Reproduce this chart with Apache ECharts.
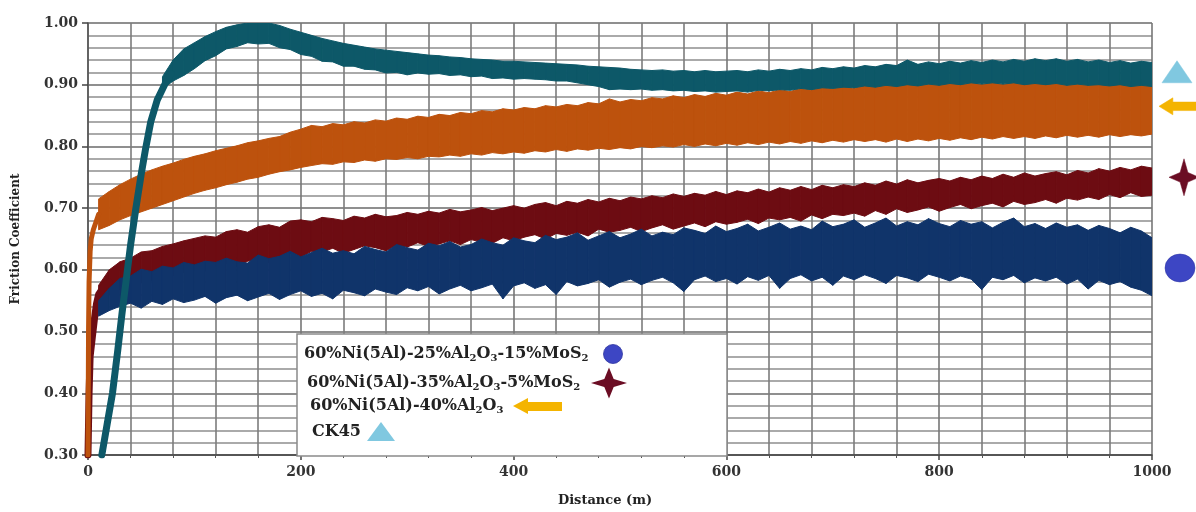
<!DOCTYPE html>
<html><head><meta charset="utf-8">
<script src="https://cdn.jsdelivr.net/npm/echarts@6/dist/echarts.min.js"></script>
<style>html,body{margin:0;padding:0;background:#fff}#c{width:1196px;height:512px}</style>
</head><body><div id="c"></div>
<script>
// Sliding distance (m) sampling grid for the noisy bands
const dist = [10,20,30,40,50,60,70,80,90,100,110,120,130,140,150,160,170,180,190,200,
210,220,230,240,250,260,270,280,290,300,310,320,330,340,350,360,370,380,390,400,
410,420,430,440,450,460,470,480,490,500,510,520,530,540,550,560,570,580,590,600,
610,620,630,640,650,660,670,680,690,700,710,720,730,740,750,760,770,780,790,800,
810,820,830,840,850,860,870,880,890,900,910,920,930,940,950,960,970,980,990,1000];

// 60%Ni(5Al)-25%Al2O3-15%MoS2 (lower / upper edge of the noisy trace)
const navyLow = [0.525,0.534,0.541,0.546,0.538,0.549,0.544,0.553,0.547,0.551,
0.557,0.546,0.555,0.559,0.550,0.556,0.562,0.552,0.560,0.566,
0.557,0.562,0.553,0.567,0.563,0.558,0.569,0.564,0.560,0.571,
0.566,0.573,0.561,0.569,0.575,0.566,0.571,0.577,0.553,0.574,
0.579,0.570,0.576,0.560,0.581,0.574,0.578,0.584,0.572,0.580,
0.585,0.576,0.583,0.588,0.579,0.565,0.584,0.590,0.581,0.586,
0.577,0.589,0.583,0.591,0.570,0.586,0.592,0.582,0.588,0.575,
0.590,0.584,0.592,0.586,0.578,0.591,0.587,0.581,0.593,0.588,
0.582,0.590,0.585,0.568,0.588,0.584,0.591,0.579,0.587,0.582,
0.588,0.577,0.585,0.569,0.583,0.576,0.581,0.572,0.567,0.558];
const navyHigh = [0.550,0.570,0.586,0.590,0.601,0.597,0.606,0.603,0.612,0.608,
0.614,0.612,0.619,0.613,0.611,0.624,0.618,0.622,0.630,0.621,
0.628,0.635,0.627,0.631,0.626,0.638,0.633,0.629,0.641,0.636,
0.632,0.643,0.639,0.646,0.637,0.641,0.650,0.644,0.640,0.652,
0.647,0.644,0.656,0.649,0.653,0.660,0.648,0.655,0.662,0.652,
0.658,0.666,0.655,0.661,0.657,0.668,0.664,0.659,0.671,0.662,
0.667,0.674,0.663,0.669,0.676,0.666,0.671,0.665,0.679,0.670,
0.674,0.681,0.669,0.676,0.684,0.671,0.678,0.673,0.683,0.675,
0.670,0.680,0.674,0.678,0.668,0.677,0.684,0.670,0.675,0.667,
0.676,0.669,0.673,0.664,0.672,0.667,0.660,0.669,0.663,0.652];

// 60%Ni(5Al)-35%Al2O3-5%MoS2
const redStart = [[0,0.30],[1,0.40],[2,0.46],[4,0.49],[6,0.52],[8,0.545],[10,0.56],[15,0.573],[20,0.58]];
const redLow = [0.545,0.560,0.568,0.573,0.579,0.583,0.589,0.591,0.596,0.601,
0.598,0.606,0.611,0.605,0.614,0.618,0.612,0.621,0.627,0.620,
0.630,0.629,0.635,0.627,0.633,0.639,0.636,0.631,0.640,0.637,
0.644,0.638,0.642,0.647,0.641,0.649,0.645,0.643,0.652,0.647,
0.653,0.657,0.650,0.659,0.656,0.661,0.655,0.666,0.661,0.664,
0.669,0.662,0.668,0.673,0.666,0.671,0.676,0.670,0.678,0.674,
0.677,0.682,0.675,0.684,0.681,0.685,0.679,0.689,0.683,0.690,
0.688,0.692,0.687,0.696,0.690,0.699,0.693,0.697,0.702,0.695,
0.701,0.706,0.699,0.704,0.708,0.702,0.711,0.706,0.709,0.714,
0.708,0.716,0.713,0.718,0.714,0.722,0.717,0.725,0.719,0.721];
const redHigh = [0.575,0.600,0.613,0.619,0.629,0.631,0.638,0.642,0.647,0.651,
0.655,0.653,0.662,0.665,0.661,0.670,0.673,0.669,0.679,0.681,
0.678,0.685,0.683,0.680,0.687,0.684,0.690,0.686,0.688,0.693,
0.690,0.695,0.692,0.698,0.694,0.697,0.701,0.696,0.700,0.704,
0.700,0.706,0.709,0.704,0.711,0.708,0.714,0.710,0.716,0.712,
0.718,0.715,0.720,0.717,0.723,0.719,0.724,0.721,0.727,0.722,
0.728,0.725,0.731,0.726,0.733,0.729,0.735,0.730,0.737,0.733,
0.738,0.735,0.741,0.737,0.744,0.739,0.746,0.741,0.745,0.748,
0.744,0.750,0.746,0.752,0.748,0.755,0.750,0.757,0.752,0.756,
0.759,0.754,0.761,0.757,0.764,0.760,0.766,0.762,0.768,0.765];

// 60%Ni(5Al)-40%Al2O3
const orangeStart = [[0,0.30],[0.5,0.50],[1,0.58],[2,0.63],[3,0.65],[5,0.665],[8,0.68],[10,0.69]];
const orangeLow = [0.665,0.672,0.681,0.688,0.694,0.700,0.706,0.712,0.718,0.724,
0.729,0.733,0.738,0.742,0.747,0.750,0.755,0.759,0.762,0.766,
0.769,0.772,0.771,0.775,0.774,0.778,0.776,0.780,0.779,0.782,
0.780,0.784,0.783,0.786,0.784,0.788,0.786,0.790,0.788,0.791,
0.789,0.793,0.791,0.795,0.792,0.796,0.794,0.797,0.795,0.798,
0.796,0.800,0.798,0.801,0.799,0.803,0.800,0.804,0.801,0.805,
0.802,0.806,0.803,0.807,0.804,0.808,0.805,0.809,0.806,0.810,
0.807,0.811,0.808,0.811,0.807,0.812,0.808,0.812,0.809,0.813,
0.810,0.814,0.811,0.815,0.812,0.816,0.813,0.816,0.813,0.817,
0.814,0.818,0.815,0.818,0.815,0.819,0.816,0.819,0.817,0.820];
const orangeHigh = [0.715,0.727,0.738,0.747,0.755,0.762,0.768,0.773,0.779,0.784,
0.788,0.793,0.797,0.801,0.806,0.809,0.813,0.816,0.823,0.828,
0.834,0.832,0.837,0.835,0.840,0.838,0.843,0.841,0.846,0.844,
0.849,0.847,0.852,0.850,0.855,0.853,0.858,0.856,0.861,0.859,
0.863,0.861,0.866,0.864,0.868,0.866,0.871,0.869,0.877,0.872,
0.876,0.874,0.879,0.877,0.882,0.879,0.884,0.881,0.886,0.883,
0.888,0.885,0.890,0.887,0.892,0.889,0.894,0.891,0.896,0.893,
0.897,0.894,0.899,0.896,0.901,0.897,0.903,0.898,0.902,0.899,
0.903,0.899,0.904,0.900,0.904,0.900,0.905,0.901,0.905,0.902,
0.906,0.902,0.906,0.903,0.907,0.903,0.907,0.904,0.908,0.905];

// CK45
const tealRise = [[13,0.30],[18,0.35],[23,0.40],[28,0.47],[32,0.53],[36,0.585],[40,0.64],[45,0.70],[50,0.755],[54,0.795],[59,0.84],[65,0.875],[72,0.90],[78,0.918]];
const tealLow = [null,null,null,null,null,null,0.893,0.906,0.915,0.926,
0.939,0.947,0.958,0.962,0.968,0.966,0.967,0.960,0.957,0.949,
0.946,0.938,0.937,0.930,0.930,0.925,0.924,0.919,0.920,0.916,
0.919,0.917,0.918,0.915,0.916,0.913,0.914,0.910,0.911,0.909,
0.910,0.909,0.908,0.906,0.906,0.903,0.900,0.897,0.892,0.893,
0.892,0.893,0.891,0.892,0.890,0.891,0.889,0.890,0.888,0.889,
0.890,0.888,0.891,0.890,0.892,0.891,0.894,0.892,0.895,0.894,
0.896,0.895,0.898,0.896,0.899,0.897,0.900,0.898,0.901,0.899,
0.902,0.900,0.903,0.901,0.903,0.901,0.903,0.900,0.902,0.900,
0.902,0.899,0.901,0.899,0.900,0.898,0.900,0.897,0.899,0.897];
const tealHigh = [null,null,null,null,null,null,0.913,0.940,0.958,0.968,
0.978,0.986,0.993,0.997,1.000,1.000,1.000,0.996,0.990,0.985,
0.980,0.975,0.971,0.967,0.964,0.961,0.958,0.956,0.954,0.952,
0.950,0.948,0.947,0.945,0.944,0.942,0.941,0.940,0.938,0.938,
0.937,0.936,0.935,0.934,0.933,0.932,0.930,0.929,0.928,0.927,
0.925,0.924,0.923,0.924,0.922,0.923,0.921,0.923,0.921,0.922,
0.923,0.921,0.924,0.922,0.925,0.923,0.926,0.924,0.928,0.926,
0.929,0.927,0.931,0.929,0.933,0.931,0.940,0.933,0.937,0.934,
0.938,0.935,0.939,0.936,0.940,0.937,0.941,0.938,0.942,0.939,
0.942,0.938,0.941,0.937,0.940,0.936,0.939,0.935,0.938,0.936];

// End-of-test values marked by the symbols at the right side
const endMarkers = {navy: 0.603, red: 0.75, orange: 0.865, teal: 0.921};

const yTicks = [0.30,0.40,0.50,0.60,0.70,0.80,0.90,1.00];
const xTicks = [0,200,400,600,800,1000];

const C = {navy:'#10346a', red:'#6d0c12', orange:'#bd520d', teal:'#0d5868'};
const SERIF = "'DejaVu Serif', 'Liberation Serif', serif";

function bandData(low, high){
  const out = [];
  for (let i = 0; i < dist.length - 1; i++) {
    if (low[i] == null || low[i+1] == null) continue;
    out.push([dist[i], low[i], high[i], dist[i+1], low[i+1], high[i+1]]);
  }
  return out;
}
function bandSeries(name, low, high, color, z){
  return {
    type: 'custom', name: name, clip: true, z: z,
    encode: {x: [0, 3], y: [1, 2, 4, 5]},
    data: bandData(low, high),
    renderItem: function(params, api){
      const p0 = api.coord([api.value(0), api.value(1)]);
      const p1 = api.coord([api.value(3), api.value(4)]);
      const p2 = api.coord([api.value(3), api.value(5)]);
      const p3 = api.coord([api.value(0), api.value(2)]);
      return {type: 'polygon', shape: {points: [p0, p1, p2, p3]},
        style: {fill: color, stroke: color, lineWidth: 1}};
    }
  };
}
function lineSeries(data, color, width, z){
  return {type: 'line', data: data, symbol: 'none', z: z, silent: true,
    lineStyle: {color: color, width: width, join: 'round', cap: 'round'}};
}
function endSeries(v, symbol, size, offset, color, border){
  return {type: 'scatter', data: [[1000, v]], symbol: symbol, symbolSize: size,
    symbolOffset: [offset, 0], clip: false, z: 6, silent: true,
    itemStyle: {color: color, borderColor: border || color, borderWidth: 0.5, opacity: 1}};
}

const ARROW = 'path://M0,8 L9,0 L9,4 L26,4 L26,12 L9,12 L9,16 Z';
const STAR4 = 'path://M10,0 L12.6,7.4 L20,10 L12.6,12.6 L10,20 L7.4,12.6 L0,10 L7.4,7.4 Z';

const chart = echarts.init(document.getElementById('c'), null, {renderer: 'canvas'});
const axisFont = {fontFamily: SERIF, fontWeight: 'bold', fontSize: 14, color: '#333'};
const subRich = {s: {fontFamily: SERIF, fontWeight: 'bold', fontSize: 10, lineHeight: 10, verticalAlign: 'bottom', fill: '#222'}};
function legendText(x, y, text){
  return {type: 'text', x: x, y: y, z: 60,
    style: {text: text, rich: subRich, fontFamily: SERIF, fontWeight: 'bold', fontSize: 16,
      lineHeight: 19, fill: '#222', align: 'left', verticalAlign: 'middle'}};
}
function starPts(cx, cy, w, h){
  const a = w/2, b = h/2, ia = w*0.13, ib = h*0.13;
  return [[cx, cy-b],[cx+ia, cy-ib],[cx+a, cy],[cx+ia, cy+ib],[cx, cy+b],[cx-ia, cy+ib],[cx-a, cy],[cx-ia, cy-ib]];
}

chart.setOption({
  animation: false,
  backgroundColor: '#fff',
  grid: {left: 88, right: 44, top: 23, bottom: 55, containLabel: false},
  xAxis: {
    type: 'value', min: xTicks[0], max: xTicks[xTicks.length-1], interval: 200,
    name: 'Distance (m)', nameLocation: 'middle', nameGap: 39,
    nameTextStyle: {fontFamily: SERIF, fontWeight: 'bold', fontSize: 13, color: '#222', padding: [0, 30, 0, 0]},
    axisLine: {show: true, lineStyle: {color: '#444', width: 1.5}},
    axisTick: {show: true, length: 5, lineStyle: {color: '#444', width: 1.5}},
    minorTick: {show: true, splitNumber: 5, length: 3, lineStyle: {color: '#555'}},
    axisLabel: Object.assign({margin: 10, formatter: v => String(v)}, axisFont),
    splitLine: {show: true, lineStyle: {color: '#767676', width: 1.6}},
    minorSplitLine: {show: true, lineStyle: {color: '#7c7c7c', width: 1.6}}
  },
  yAxis: {
    type: 'value', min: yTicks[0], max: yTicks[yTicks.length-1], interval: 0.1,
    name: 'Friction Coefficient', nameLocation: 'middle', nameGap: 66, nameRotate: 90,
    nameTextStyle: {fontFamily: SERIF, fontWeight: 'bold', fontSize: 12, color: '#222'},
    axisLine: {show: true, lineStyle: {color: '#555', width: 1.5}},
    axisTick: {show: true, length: 6, lineStyle: {color: '#444', width: 1.5}},
    minorTick: {show: false, splitNumber: 5},
    axisLabel: Object.assign({margin: 10, formatter: v => v.toFixed(2)}, axisFont),
    splitLine: {show: true, lineStyle: {color: '#6a6a6a', width: 1.6}},
    minorSplitLine: {show: true, lineStyle: {color: '#8e8e8e', width: 1.5}}
  },
  graphic: [
    {type: 'rect', z: 50, shape: {x: 297, y: 334, width: 430, height: 122},
      style: {fill: '#fff', stroke: '#8a8a8a', lineWidth: 1.5}},
    legendText(304, 354, '60%Ni(5Al)-25%Al{s|2}O{s|3}-15%MoS{s|2}'),
    {type: 'circle', z: 60, shape: {cx: 613, cy: 354, r: 9.5}, style: {fill: '#3d46c4', stroke: '#2e35a0', lineWidth: 0.8}},
    legendText(307, 383, '60%Ni(5Al)-35%Al{s|2}O{s|3}-5%MoS{s|2}'),
    {type: 'polygon', z: 60, shape: {points: starPts(609, 383, 36, 31)}, style: {fill: '#6b0d24'}},
    legendText(310, 406, '60%Ni(5Al)-40%Al{s|2}O{s|3}'),
    {type: 'polygon', z: 60, shape: {points: [[513,406],[528,398],[528,402],[562,402],[562,411],[528,411],[528,414]]}, style: {fill: '#f4b400'}},
    legendText(312, 432, 'CK45'),
    {type: 'polygon', z: 60, shape: {points: [[381,422],[395,441],[367,441]]}, style: {fill: '#80c8e0'}}
  ],
  series: [
    lineSeries(redStart, C.red, 7, 2),
    bandSeries('60%Ni(5Al)-35%Al2O3-5%MoS2', redLow, redHigh, C.red, 2),
    bandSeries('60%Ni(5Al)-25%Al2O3-15%MoS2', navyLow, navyHigh, C.navy, 3),
    lineSeries(orangeStart, C.orange, 5, 4),
    bandSeries('60%Ni(5Al)-40%Al2O3', orangeLow, orangeHigh, C.orange, 4),
    bandSeries('CK45', tealLow, tealHigh, C.teal, 5),
    lineSeries(tealRise, C.teal, 7, 5),
    endSeries(endMarkers.teal, 'triangle', [30, 22], 25, '#80c8e0'),
    endSeries(endMarkers.orange, ARROW, [40, 17], 27, '#f4b400'),
    endSeries(endMarkers.red, STAR4, [30, 37], 32, '#6b0d24'),
    endSeries(endMarkers.navy, 'circle', [30, 28], 28, '#3d46c4', '#2e35a0')
  ]
});
</script></body></html>
